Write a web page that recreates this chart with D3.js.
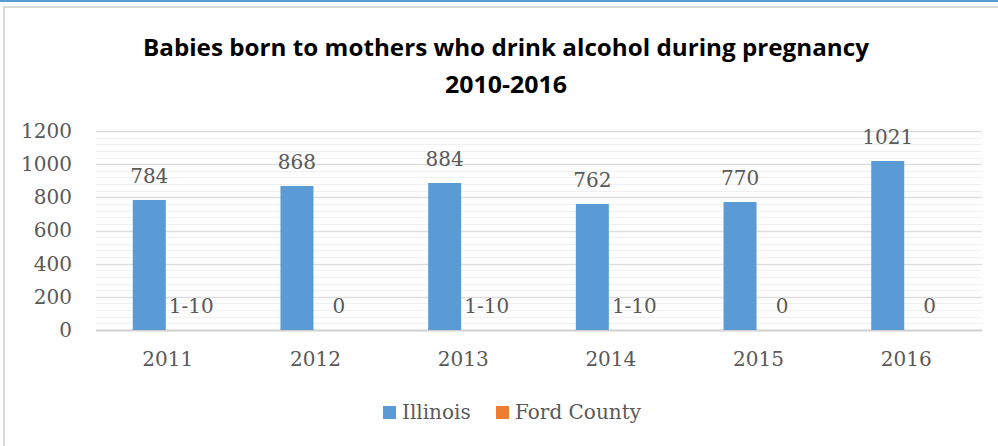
<!DOCTYPE html>
<html>
<head>
<meta charset="utf-8">
<script src="https://cdn.jsdelivr.net/npm/d3@7"></script>
<style>
  body { margin: 0; background: #fff; }
  svg text { fill: #595959; }
</style>
</head>
<body>
<div id="chart"></div>
<script>
// chart data
var years = ["2011", "2012", "2013", "2014", "2015", "2016"];
var illinois = [784, 868, 884, 762, 770, 1021];
var fordCounty = [1, 0, 1, 1, 0, 0];   // "1-10" is too small to show as a bar
var fordLabels = ["1-10", "0", "1-10", "1-10", "0", "0"];
var seriesNames = ["Illinois", "Ford County"];
var yTicks = [0, 200, 400, 600, 800, 1000, 1200];

var width = 998, height = 446;
var margin = { top: 131, right: 16, bottom: 116, left: 96 };
var plotW = width - margin.left - margin.right;
var plotH = height - margin.top - margin.bottom;
var colors = ["#5b9bd5", "#ed7d31"];

var svg = d3.select("#chart").append("svg")
    .attr("width", width)
    .attr("height", height);

// outer frame like the office chart
svg.append("rect").attr("x", 0).attr("y", 0).attr("width", width).attr("height", 2).attr("fill", "#5b9bd5");
svg.append("rect").attr("x", 3).attr("y", 6).attr("width", width).attr("height", 2).attr("fill", "#d9d9d9");
svg.append("rect").attr("x", 3).attr("y", 6).attr("width", 2).attr("height", height).attr("fill", "#d9d9d9");

// title
svg.append("text")
    .attr("x", 506).attr("y", 56)
    .attr("text-anchor", "middle")
    .style("font-family", "'Open Sans', sans-serif")
    .style("font-weight", "bold")
    .style("font-size", "23px")
    .style("fill", "#000")
    .attr("textLength", 726).attr("lengthAdjust", "spacingAndGlyphs")
    .text("Babies born to mothers who drink alcohol during pregnancy");
svg.append("text")
    .attr("x", 506).attr("y", 93)
    .attr("text-anchor", "middle")
    .style("font-family", "'Open Sans', sans-serif")
    .style("font-weight", "bold")
    .style("font-size", "23px")
    .style("fill", "#000")
    .attr("textLength", 122).attr("lengthAdjust", "spacingAndGlyphs")
    .text("2010-2016");

var g = svg.append("g")
    .attr("transform", "translate(" + margin.left + "," + margin.top + ")");

var x = d3.scaleBand()
    .domain(years)
    .range([-4, plotW - 4])
    .paddingInner(0.553)
    .paddingOuter(0.276);

var xSub = d3.scaleBand()
    .domain(seriesNames)
    .range([0, x.bandwidth()]);

var y = d3.scaleLinear()
    .domain([0, 1200])
    .range([plotH, 0]);

// minor gridlines
g.append("g").selectAll("line")
    .data(d3.range(0, 1201, 40).filter(function (v) { return v % 200 !== 0; }))
    .enter().append("line")
    .attr("x1", 0).attr("x2", plotW)
    .attr("y1", function (d) { return Math.round(y(d)) + 0.5; })
    .attr("y2", function (d) { return Math.round(y(d)) + 0.5; })
    .attr("stroke", "#f0f0f0");

// major gridlines
g.append("g").selectAll("line")
    .data(yTicks)
    .enter().append("line")
    .attr("x1", 0).attr("x2", plotW)
    .attr("y1", function (d) { return Math.round(y(d)) + 0.5; })
    .attr("y2", function (d) { return Math.round(y(d)) + 0.5; })
    .attr("stroke", function (d) { return d === 0 ? "#d0d0d0" : "#dedede"; })
    .attr("stroke-width", function (d) { return d === 0 ? 2 : 1.3; });

// y axis labels
var yAxis = g.append("g")
    .attr("transform", "translate(-24,0)")
    .call(d3.axisLeft(y).tickValues(yTicks).tickFormat(d3.format("d")).tickSize(0).tickPadding(0));
yAxis.select(".domain").remove();
yAxis.selectAll("text")
    .style("font-family", "'DejaVu Serif', serif")
    .style("font-size", "20px")
    .style("fill", "#595959");

// x axis labels
var xAxis = g.append("g")
    .attr("transform", "translate(2," + plotH + ")")
    .call(d3.axisBottom(x).tickSize(0).tickPadding(22));
xAxis.select(".domain").remove();
xAxis.selectAll("text")
    .style("font-family", "'DejaVu Serif', serif")
    .style("font-size", "20px")
    .style("fill", "#595959");

// bars (heights rounded to whole pixels)
var series = [illinois, fordCounty];
series.forEach(function (vals, si) {
    g.append("g").selectAll("rect")
        .data(vals)
        .enter().append("rect")
        .attr("x", function (d, i) { return x(years[i]) + xSub(seriesNames[si]); })
        .attr("width", xSub.bandwidth())
        .attr("y", function (d) { return plotH - Math.round(plotH - y(d)); })
        .attr("height", function (d) { return Math.round(plotH - y(d)); })
        .attr("fill", colors[si]);
});

// value labels
g.append("g").selectAll("text")
    .data(illinois)
    .enter().append("text")
    .attr("x", function (d, i) { return x(years[i]) + xSub("Illinois") + xSub.bandwidth() / 2; })
    .attr("y", function (d) { return y(d) - 17; })
    .attr("text-anchor", "middle")
    .style("font-family", "'DejaVu Serif', serif")
    .style("font-size", "20px")
    .text(function (d) { return d; });

g.append("g").selectAll("text")
    .data(fordCounty)
    .enter().append("text")
    .attr("x", function (d, i) { return x(years[i]) + xSub("Ford County") + xSub.bandwidth() / 2 + 9; })
    .attr("y", function (d) { return y(d) - 17; })
    .attr("text-anchor", "middle")
    .style("font-family", "'DejaVu Serif', serif")
    .style("font-size", "20px")
    .text(function (d, i) { return fordLabels[i]; });

// legend
var legend = svg.append("g").attr("transform", "translate(383,406)");
var lx = [0, 113];
seriesNames.forEach(function (name, i) {
    legend.append("rect")
        .attr("x", lx[i]).attr("y", 0)
        .attr("width", 13).attr("height", 13)
        .attr("fill", colors[i]);
    legend.append("text")
        .attr("x", lx[i] + 19).attr("y", 13)
        .style("font-family", "'DejaVu Serif', serif")
        .style("font-size", "20px")
        .text(name);
});
</script>
</body>
</html>
